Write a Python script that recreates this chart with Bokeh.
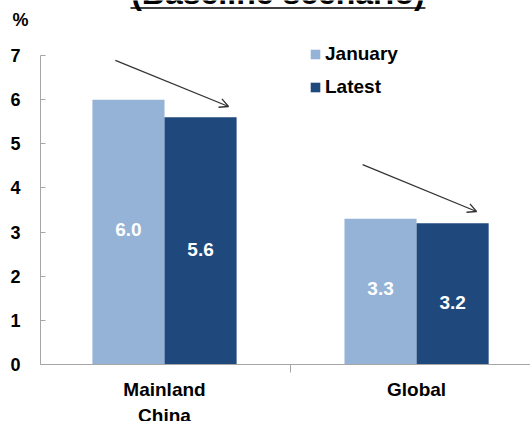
from bokeh.plotting import figure
from bokeh.models import (Range1d, FixedTicker, Label, Arrow, OpenHead,
                          Legend, LegendItem)
from bokeh.core.properties import value
from bokeh.embed import file_html
from bokeh.resources import INLINE

# ---- data ----
categories = ["Mainland\nChina", "Global"]
series_names = ["January", "Latest"]
january = [6.0, 3.3]
latest = [5.6, 3.2]
y_ticks = [0, 1, 2, 3, 4, 5, 6, 7]
title_text = "(Baseline scenario)"
unit_text = "%"

# ---- style ----
JAN_COLOR = "#95b3d7"
LAT_COLOR = "#1f497d"
AXIS_COLOR = "#a6a6a6"
FONT = "Liberation Sans"

cat_x = [i + 0.5 for i in range(len(categories))]
boundaries = [float(i) for i in range(1, len(categories))]
bar_w = 0.286
jan_x = [c - bar_w / 2 for c in cat_x]
lat_x = [c + bar_w / 2 for c in cat_x]

X0, X1 = 0.008, 1.952        # extent of the category axis
Y0, Y1 = y_ticks[0], y_ticks[-1]

p = figure(width=530, height=421, output_backend="svg", toolbar_location=None,
           x_range=Range1d(-0.1507, 1.952), y_range=Range1d(-1.2913, 8.246),
           min_border_left=0, min_border_right=0, min_border_top=0,
           min_border_bottom=0)
p.outline_line_color = None
p.xgrid.visible = False
p.ygrid.visible = False
p.background_fill_color = "white"
p.border_fill_color = "white"

r1 = p.vbar(x=jan_x, top=january, width=bar_w, fill_color=JAN_COLOR, line_color=None)
r2 = p.vbar(x=lat_x, top=latest, width=bar_w, fill_color=LAT_COLOR, line_color=None)

# data labels
p.text(x=jan_x, y=[v / 2 for v in january], text=[f"{v:.1f}" for v in january],
       text_align="center", text_baseline="middle", text_color="white",
       text_font=value(FONT), text_font_style="bold", text_font_size="19px",
       y_offset=-3)
p.text(x=lat_x, y=[v / 2 for v in latest], text=[f"{v:.1f}" for v in latest],
       text_align="center", text_baseline="middle", text_color="white",
       text_font=value(FONT), text_font_style="bold", text_font_size="19px",
       y_offset=9)

# y axis
ya = p.yaxis[0]
ya.fixed_location = X0
ya.bounds = (Y0, Y1)
ya.ticker = FixedTicker(ticks=y_ticks)
ya.major_tick_in = 5
ya.major_tick_out = 0
ya.minor_tick_line_color = None
ya.axis_line_color = AXIS_COLOR
ya.major_tick_line_color = AXIS_COLOR
ya.major_label_text_font = FONT
ya.major_label_text_font_style = "bold"
ya.major_label_text_font_size = "18px"
ya.major_label_text_color = "black"
ya.major_label_standoff = 20

# x axis
xa = p.xaxis[0]
xa.fixed_location = 0
xa.bounds = (X0, X1)
xa.ticker = FixedTicker(ticks=cat_x, minor_ticks=boundaries)
xa.major_tick_in = 0
xa.major_tick_out = 0
xa.minor_tick_in = 0
xa.minor_tick_out = 8
xa.minor_tick_line_color = AXIS_COLOR
xa.axis_line_color = AXIS_COLOR
xa.major_label_overrides = {c: name for c, name in zip(cat_x, categories)}
xa.major_label_text_font = FONT
xa.major_label_text_font_style = "bold"
xa.major_label_text_font_size = "19px"
xa.major_label_text_color = "black"
xa.major_label_standoff = 7

# legend
legend = Legend(items=[LegendItem(label=series_names[0], renderers=[r1]),
                       LegendItem(label=series_names[1], renderers=[r2])],
                location=(309, 323), orientation="vertical")
legend.label_text_font = FONT
legend.label_text_font_style = "bold"
legend.label_text_font_size = "19px"
legend.label_text_color = "black"
legend.glyph_width = 12
legend.glyph_height = 12
legend.label_standoff = 4
legend.label_height = 20
legend.spacing = 11
legend.padding = 0
legend.margin = 0
legend.border_line_color = None
legend.background_fill_alpha = 0
p.add_layout(legend)

# trend arrows (from above the January bar to above the Latest bar)
arrow_start_dx = [-0.195, -0.214]
arrow_start_dy = [0.89, 1.23]
arrow_end_dx = [0.254, 0.238]
arrow_end_dy = [0.245, 0.266]
for c, j, l, sdx, sdy, edx, edy in zip(cat_x, january, latest, arrow_start_dx,
                                       arrow_start_dy, arrow_end_dx, arrow_end_dy):
    p.add_layout(Arrow(end=OpenHead(size=9, line_width=1.3, line_color="#333333"),
                       x_start=c + sdx, y_start=j + sdy, x_end=c + edx, y_end=l + edy,
                       line_width=1.3, line_color="#333333"))

# unit label
p.add_layout(Label(x=-0.0714, y=7.804, text=unit_text, text_align="center",
                   text_baseline="middle", text_font=FONT, text_font_style="bold",
                   text_font_size="18px", text_color="black"))

# title (mostly cropped at the top) with underline
title_cx = 0.95
title_half = 0.585
p.add_layout(Label(x=title_cx, y=8.41, text=title_text, text_align="center",
                   text_baseline="middle", text_font=FONT, text_font_style="bold",
                   text_font_size="32px", text_color="black"))
p.add_layout(Arrow(end=None, x_start=title_cx - title_half, x_end=title_cx + title_half,
                   y_start=8.077, y_end=8.077, line_width=1.5, line_color="black"))

open("out.html", "w").write(file_html(p, INLINE))
